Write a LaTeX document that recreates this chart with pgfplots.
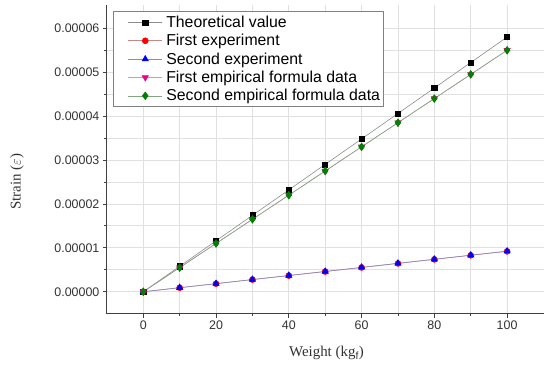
\documentclass[border=0pt]{standalone}
\usepackage{fontspec}
\setmainfont{Liberation Sans}
\newfontfamily\serif{Liberation Serif}
\usepackage{pgfplots}
\pgfplotsset{compat=1.18}
\begin{document}
\begin{tikzpicture}[x=1bp,y=1bp]
\begin{axis}[
  scale only axis, width=437bp, height=309bp,
  xmin=-10, xmax=110, ymin=-0.000005, ymax=0.0000653,
  axis x line*=bottom, axis y line*=left,
  axis line style={line width=1pt, black!75},
  xtick={0,20,...,100}, minor xtick={10,30,...,90},
  ytick={0,0.00001,0.00002,0.00003,0.00004,0.00005,0.00006},
  minor ytick={0.000005,0.000015,0.000025,0.000035,0.000045,0.000055},
  tick align=outside, major tick length=4bp, minor tick length=2.5bp,
  tick style={black!75, line width=0.8pt},
  grid=both, major grid style={black!12, line width=0.8pt}, minor grid style={black!12, line width=0.8pt},
  scaled y ticks=false,
  y tick label style={/pgf/number format/.cd, fixed, fixed zerofill, precision=5, assume math mode=true},
  x tick label style={/pgf/number format/assume math mode=true},
  ticklabel style={font=\fontsize{12.5}{14}\selectfont, text=black!80},
  xlabel={\serif Weight (kg$_\mathrm{f}$)}, ylabel={\serif Strain ($\varepsilon$)},
  label style={font=\fontsize{15}{17}\selectfont, text=black!80},
  xlabel style={at={(rel axis cs:0.503,-0.127)}, anchor=center},
  ylabel style={at={(rel axis cs:-0.206,0.427)}, anchor=center},
  legend style={at={(0.014,0.98)}, anchor=north west, draw=black!50, line width=0.6pt,
    font=\fontsize{15.9}{17.5}\selectfont, row sep=1.4bp, inner xsep=1bp, inner ysep=2.5bp,
    cells={anchor=west}},
  legend image code/.code={\draw[draw=none] (0bp,0bp) -- (50bp,0bp); \draw[#1] (14bp,0bp) -- (48bp,0bp); \draw[#1,only marks] plot coordinates {(31bp,0bp)};},
  every axis plot/.append style={line width=0.6pt, mark size=3pt},
]
\addplot[black!45, mark=square*, mark options={fill=black,draw=black, mark size=2.6pt}] coordinates {
(0,0) (10,0.0000058) (20,0.0000116) (30,0.0000174) (40,0.0000232) (50,0.000029) (60,0.0000348) (70,0.0000406) (80,0.0000464) (90,0.0000522) (100,0.000058)};
\addplot[red!35!gray!70, mark=*, mark options={fill=red,draw=red, mark size=3pt}] coordinates {
(0,0) (10,0.00000092) (20,0.00000184) (30,0.00000277) (40,0.00000368) (50,0.0000046) (60,0.00000553) (70,0.00000645) (80,0.00000737) (90,0.0000083) (100,0.0000092)};
\addplot[blue!35!gray!70, mark=triangle*, mark options={fill=blue,draw=blue, mark size=3.6pt}] coordinates {
(0,0) (10,0.00000093) (20,0.00000185) (30,0.00000278) (40,0.0000037) (50,0.00000463) (60,0.00000555) (70,0.00000648) (80,0.0000074) (90,0.00000833) (100,0.00000925)};
\addplot[magenta!35!gray!70, mark=triangle*, mark options={fill=magenta,draw=magenta,rotate=180, mark size=3.6pt}] coordinates {
(0,0) (10,0.0000055) (20,0.000011) (30,0.0000165) (40,0.000022) (50,0.0000275) (60,0.000033) (70,0.0000385) (80,0.000044) (90,0.0000495) (100,0.000055)};
\addplot[green!50!black!40!gray!70, mark=diamond*, mark options={fill=green!50!black,draw=green!50!black, mark size=3.8pt}] coordinates {
(0,0) (10,0.0000055) (20,0.000011) (30,0.0000165) (40,0.000022) (50,0.0000275) (60,0.000033) (70,0.0000385) (80,0.000044) (90,0.0000495) (100,0.000055)};
\legend{Theoretical value, First experiment, Second experiment, First empirical formula data, Second empirical formula data}
\end{axis}
\path[use as bounding box] ([shift={(-107bp,-50.5bp)}]current axis.south west) rectangle ([shift={(0bp,5bp)}]current axis.north east);
\end{tikzpicture}
\end{document}
